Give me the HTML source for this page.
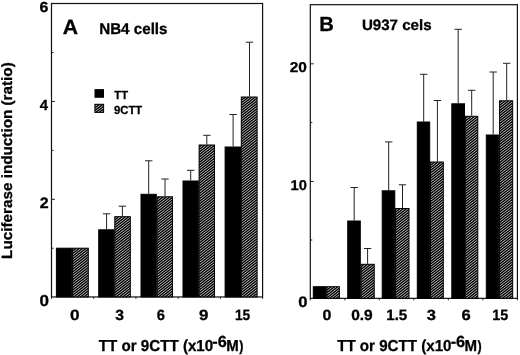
<!DOCTYPE html>
<html><head><meta charset="utf-8"><title>chart</title>
<style>
html,body{margin:0;padding:0;background:#fff;}
body{width:520px;height:355px;overflow:hidden;}
svg{display:block;will-change:transform;filter:blur(0.4px);}
text{font-family:"Liberation Sans",sans-serif;font-weight:bold;text-rendering:geometricPrecision;fill:#000;stroke:#000;stroke-width:0.3px;stroke-linejoin:round;}
.e{stroke:#222;stroke-width:1;}
.t{stroke:#222;stroke-width:1;}
.f{stroke:#111;stroke-width:1.2;}
.b{stroke:#000;stroke-width:1;}
</style></head><body>
<svg width="520" height="355" viewBox="0 0 520 355">
<defs>
<pattern id="h" width="1.6" height="1.6" patternUnits="userSpaceOnUse" patternTransform="rotate(-37.6)">
<rect width="1.6" height="1.6" fill="#fff"/>
<rect width="1.6" height="1.2" fill="#000"/>
</pattern>
</defs>
<rect width="520" height="355" fill="#fff"/>
<rect x="51.5" y="3.5" width="211.10" height="293.45" fill="none" class="f"/>
<rect x="310.3" y="4.7" width="207.10" height="293.65" fill="none" class="f"/>
<line x1="51.5" y1="248.27" x2="53.5" y2="248.27" class="t"/>
<line x1="51.5" y1="199.34" x2="54.9" y2="199.34" class="t"/>
<line x1="51.5" y1="150.41" x2="53.5" y2="150.41" class="t"/>
<line x1="51.5" y1="101.48" x2="54.9" y2="101.48" class="t"/>
<line x1="51.5" y1="52.55" x2="53.5" y2="52.55" class="t"/>
<line x1="310.3" y1="240.00" x2="312.3" y2="240.00" class="t"/>
<line x1="310.3" y1="181.50" x2="313.7" y2="181.50" class="t"/>
<line x1="310.3" y1="122.60" x2="312.3" y2="122.60" class="t"/>
<line x1="310.3" y1="63.80" x2="313.7" y2="63.80" class="t"/>
<line x1="51.50" y1="296.95" x2="51.50" y2="298.84999999999997" class="t"/>
<line x1="93.72" y1="296.95" x2="93.72" y2="298.84999999999997" class="t"/>
<line x1="135.94" y1="296.95" x2="135.94" y2="298.84999999999997" class="t"/>
<line x1="178.16" y1="296.95" x2="178.16" y2="298.84999999999997" class="t"/>
<line x1="220.38" y1="296.95" x2="220.38" y2="298.84999999999997" class="t"/>
<line x1="262.60" y1="296.95" x2="262.60" y2="298.84999999999997" class="t"/>
<line x1="310.30" y1="298.35" x2="310.30" y2="300.25" class="t"/>
<line x1="344.82" y1="298.35" x2="344.82" y2="300.25" class="t"/>
<line x1="379.33" y1="298.35" x2="379.33" y2="300.25" class="t"/>
<line x1="413.85" y1="298.35" x2="413.85" y2="300.25" class="t"/>
<line x1="448.37" y1="298.35" x2="448.37" y2="300.25" class="t"/>
<line x1="482.88" y1="298.35" x2="482.88" y2="300.25" class="t"/>
<line x1="517.40" y1="298.35" x2="517.40" y2="300.25" class="t"/>
<rect x="56.40" y="248.20" width="15.40" height="48.75" fill="#000" class="b"/>
<clipPath id="c1"><rect x="72.60" y="248.20" width="15.70" height="48.75"/></clipPath>
<rect x="72.60" y="248.20" width="15.70" height="48.75" fill="#000"/>
<path clip-path="url(#c1)" d="M71.6 247.92L89.3 234.09M71.6 250.52L89.3 236.70M71.6 253.13L89.3 239.30M71.6 255.73L89.3 241.90M71.6 258.33L89.3 244.50M71.6 260.93L89.3 247.10M71.6 263.53L89.3 249.70M71.6 266.13L89.3 252.30M71.6 268.73L89.3 254.91M71.6 271.34L89.3 257.51M71.6 273.94L89.3 260.11M71.6 276.54L89.3 262.71M71.6 279.14L89.3 265.31M71.6 281.74L89.3 267.91M71.6 284.34L89.3 270.51M71.6 286.94L89.3 273.12M71.6 289.55L89.3 275.72M71.6 292.15L89.3 278.32M71.6 294.75L89.3 280.92M71.6 297.35L89.3 283.52M71.6 299.95L89.3 286.12M71.6 302.55L89.3 288.73M71.6 305.16L89.3 291.33M71.6 307.76L89.3 293.93M71.6 310.36L89.3 296.53" stroke="#fff" stroke-width="0.72" fill="none"/>
<rect x="72.60" y="248.20" width="15.70" height="48.75" fill="none" class="b"/>
<line x1="106.6" y1="213.8" x2="106.6" y2="229.3" class="e"/>
<line x1="102.89999999999999" y1="213.8" x2="110.3" y2="213.8" class="e"/>
<rect x="98.70" y="229.80" width="15.30" height="67.15" fill="#000" class="b"/>
<line x1="122.4" y1="206.2" x2="122.4" y2="216.2" class="e"/>
<line x1="118.7" y1="206.2" x2="126.10000000000001" y2="206.2" class="e"/>
<clipPath id="c2"><rect x="114.80" y="216.70" width="15.50" height="80.25"/></clipPath>
<rect x="114.80" y="216.70" width="15.50" height="80.25" fill="#000"/>
<path clip-path="url(#c2)" d="M113.8 216.70L131.3 203.03M113.8 219.31L131.3 205.63M113.8 221.91L131.3 208.24M113.8 224.51L131.3 210.84M113.8 227.11L131.3 213.44M113.8 229.71L131.3 216.04M113.8 232.31L131.3 218.64M113.8 234.92L131.3 221.24M113.8 237.52L131.3 223.84M113.8 240.12L131.3 226.45M113.8 242.72L131.3 229.05M113.8 245.32L131.3 231.65M113.8 247.92L131.3 234.25M113.8 250.52L131.3 236.85M113.8 253.13L131.3 239.45M113.8 255.73L131.3 242.05M113.8 258.33L131.3 244.66M113.8 260.93L131.3 247.26M113.8 263.53L131.3 249.86M113.8 266.13L131.3 252.46M113.8 268.73L131.3 255.06M113.8 271.34L131.3 257.66M113.8 273.94L131.3 260.26M113.8 276.54L131.3 262.87M113.8 279.14L131.3 265.47M113.8 281.74L131.3 268.07M113.8 284.34L131.3 270.67M113.8 286.94L131.3 273.27M113.8 289.55L131.3 275.87M113.8 292.15L131.3 278.48M113.8 294.75L131.3 281.08M113.8 297.35L131.3 283.68M113.8 299.95L131.3 286.28M113.8 302.55L131.3 288.88M113.8 305.16L131.3 291.48M113.8 307.76L131.3 294.08M113.8 310.36L131.3 296.69" stroke="#fff" stroke-width="0.72" fill="none"/>
<rect x="114.80" y="216.70" width="15.50" height="80.25" fill="none" class="b"/>
<line x1="148.7" y1="160.8" x2="148.7" y2="193.8" class="e"/>
<line x1="145.0" y1="160.8" x2="152.39999999999998" y2="160.8" class="e"/>
<rect x="141.00" y="194.30" width="15.30" height="102.65" fill="#000" class="b"/>
<line x1="165.0" y1="179.0" x2="165.0" y2="196.3" class="e"/>
<line x1="161.3" y1="179.0" x2="168.7" y2="179.0" class="e"/>
<clipPath id="c3"><rect x="157.10" y="196.80" width="15.40" height="100.15"/></clipPath>
<rect x="157.10" y="196.80" width="15.40" height="100.15" fill="#000"/>
<path clip-path="url(#c3)" d="M156.1 195.89L173.5 182.30M156.1 198.49L173.5 184.90M156.1 201.10L173.5 187.50M156.1 203.70L173.5 190.10M156.1 206.30L173.5 192.70M156.1 208.90L173.5 195.31M156.1 211.50L173.5 197.91M156.1 214.10L173.5 200.51M156.1 216.70L173.5 203.11M156.1 219.31L173.5 205.71M156.1 221.91L173.5 208.31M156.1 224.51L173.5 210.91M156.1 227.11L173.5 213.52M156.1 229.71L173.5 216.12M156.1 232.31L173.5 218.72M156.1 234.92L173.5 221.32M156.1 237.52L173.5 223.92M156.1 240.12L173.5 226.52M156.1 242.72L173.5 229.13M156.1 245.32L173.5 231.73M156.1 247.92L173.5 234.33M156.1 250.52L173.5 236.93M156.1 253.13L173.5 239.53M156.1 255.73L173.5 242.13M156.1 258.33L173.5 244.73M156.1 260.93L173.5 247.34M156.1 263.53L173.5 249.94M156.1 266.13L173.5 252.54M156.1 268.73L173.5 255.14M156.1 271.34L173.5 257.74M156.1 273.94L173.5 260.34M156.1 276.54L173.5 262.94M156.1 279.14L173.5 265.55M156.1 281.74L173.5 268.15M156.1 284.34L173.5 270.75M156.1 286.94L173.5 273.35M156.1 289.55L173.5 275.95M156.1 292.15L173.5 278.55M156.1 294.75L173.5 281.15M156.1 297.35L173.5 283.76M156.1 299.95L173.5 286.36M156.1 302.55L173.5 288.96M156.1 305.16L173.5 291.56M156.1 307.76L173.5 294.16M156.1 310.36L173.5 296.76" stroke="#fff" stroke-width="0.72" fill="none"/>
<rect x="157.10" y="196.80" width="15.40" height="100.15" fill="none" class="b"/>
<line x1="190.7" y1="170.3" x2="190.7" y2="180.5" class="e"/>
<line x1="187.0" y1="170.3" x2="194.39999999999998" y2="170.3" class="e"/>
<rect x="183.00" y="181.00" width="15.30" height="115.95" fill="#000" class="b"/>
<line x1="206.8" y1="135.3" x2="206.8" y2="144.5" class="e"/>
<line x1="203.10000000000002" y1="135.3" x2="210.5" y2="135.3" class="e"/>
<clipPath id="c4"><rect x="199.10" y="145.00" width="15.40" height="151.95"/></clipPath>
<rect x="199.10" y="145.00" width="15.40" height="151.95" fill="#000"/>
<path clip-path="url(#c4)" d="M198.1 143.86L215.5 130.27M198.1 146.46L215.5 132.87M198.1 149.07L215.5 135.47M198.1 151.67L215.5 138.07M198.1 154.27L215.5 140.67M198.1 156.87L215.5 143.28M198.1 159.47L215.5 145.88M198.1 162.07L215.5 148.48M198.1 164.67L215.5 151.08M198.1 167.28L215.5 153.68M198.1 169.88L215.5 156.28M198.1 172.48L215.5 158.89M198.1 175.08L215.5 161.49M198.1 177.68L215.5 164.09M198.1 180.28L215.5 166.69M198.1 182.89L215.5 169.29M198.1 185.49L215.5 171.89M198.1 188.09L215.5 174.49M198.1 190.69L215.5 177.10M198.1 193.29L215.5 179.70M198.1 195.89L215.5 182.30M198.1 198.49L215.5 184.90M198.1 201.10L215.5 187.50M198.1 203.70L215.5 190.10M198.1 206.30L215.5 192.70M198.1 208.90L215.5 195.31M198.1 211.50L215.5 197.91M198.1 214.10L215.5 200.51M198.1 216.70L215.5 203.11M198.1 219.31L215.5 205.71M198.1 221.91L215.5 208.31M198.1 224.51L215.5 210.91M198.1 227.11L215.5 213.52M198.1 229.71L215.5 216.12M198.1 232.31L215.5 218.72M198.1 234.92L215.5 221.32M198.1 237.52L215.5 223.92M198.1 240.12L215.5 226.52M198.1 242.72L215.5 229.13M198.1 245.32L215.5 231.73M198.1 247.92L215.5 234.33M198.1 250.52L215.5 236.93M198.1 253.13L215.5 239.53M198.1 255.73L215.5 242.13M198.1 258.33L215.5 244.73M198.1 260.93L215.5 247.34M198.1 263.53L215.5 249.94M198.1 266.13L215.5 252.54M198.1 268.73L215.5 255.14M198.1 271.34L215.5 257.74M198.1 273.94L215.5 260.34M198.1 276.54L215.5 262.94M198.1 279.14L215.5 265.55M198.1 281.74L215.5 268.15M198.1 284.34L215.5 270.75M198.1 286.94L215.5 273.35M198.1 289.55L215.5 275.95M198.1 292.15L215.5 278.55M198.1 294.75L215.5 281.15M198.1 297.35L215.5 283.76M198.1 299.95L215.5 286.36M198.1 302.55L215.5 288.96M198.1 305.16L215.5 291.56M198.1 307.76L215.5 294.16M198.1 310.36L215.5 296.76" stroke="#fff" stroke-width="0.72" fill="none"/>
<rect x="199.10" y="145.00" width="15.40" height="151.95" fill="none" class="b"/>
<line x1="233.1" y1="114.5" x2="233.1" y2="146.5" class="e"/>
<line x1="229.4" y1="114.5" x2="236.79999999999998" y2="114.5" class="e"/>
<rect x="225.10" y="147.00" width="15.40" height="149.95" fill="#000" class="b"/>
<line x1="249.5" y1="42.2" x2="249.5" y2="96.5" class="e"/>
<line x1="245.8" y1="42.2" x2="253.2" y2="42.2" class="e"/>
<clipPath id="c5"><rect x="241.30" y="97.00" width="15.80" height="199.95"/></clipPath>
<rect x="241.30" y="97.00" width="15.80" height="199.95" fill="#000"/>
<path clip-path="url(#c5)" d="M240.3 97.04L258.1 83.13M240.3 99.64L258.1 85.73M240.3 102.24L258.1 88.33M240.3 104.84L258.1 90.93M240.3 107.44L258.1 93.54M240.3 110.04L258.1 96.14M240.3 112.65L258.1 98.74M240.3 115.25L258.1 101.34M240.3 117.85L258.1 103.94M240.3 120.45L258.1 106.54M240.3 123.05L258.1 109.14M240.3 125.65L258.1 111.75M240.3 128.25L258.1 114.35M240.3 130.86L258.1 116.95M240.3 133.46L258.1 119.55M240.3 136.06L258.1 122.15M240.3 138.66L258.1 124.75M240.3 141.26L258.1 127.35M240.3 143.86L258.1 129.96M240.3 146.46L258.1 132.56M240.3 149.07L258.1 135.16M240.3 151.67L258.1 137.76M240.3 154.27L258.1 140.36M240.3 156.87L258.1 142.96M240.3 159.47L258.1 145.57M240.3 162.07L258.1 148.17M240.3 164.67L258.1 150.77M240.3 167.28L258.1 153.37M240.3 169.88L258.1 155.97M240.3 172.48L258.1 158.57M240.3 175.08L258.1 161.17M240.3 177.68L258.1 163.78M240.3 180.28L258.1 166.38M240.3 182.89L258.1 168.98M240.3 185.49L258.1 171.58M240.3 188.09L258.1 174.18M240.3 190.69L258.1 176.78M240.3 193.29L258.1 179.38M240.3 195.89L258.1 181.99M240.3 198.49L258.1 184.59M240.3 201.10L258.1 187.19M240.3 203.70L258.1 189.79M240.3 206.30L258.1 192.39M240.3 208.90L258.1 194.99M240.3 211.50L258.1 197.59M240.3 214.10L258.1 200.20M240.3 216.70L258.1 202.80M240.3 219.31L258.1 205.40M240.3 221.91L258.1 208.00M240.3 224.51L258.1 210.60M240.3 227.11L258.1 213.20M240.3 229.71L258.1 215.81M240.3 232.31L258.1 218.41M240.3 234.92L258.1 221.01M240.3 237.52L258.1 223.61M240.3 240.12L258.1 226.21M240.3 242.72L258.1 228.81M240.3 245.32L258.1 231.41M240.3 247.92L258.1 234.02M240.3 250.52L258.1 236.62M240.3 253.13L258.1 239.22M240.3 255.73L258.1 241.82M240.3 258.33L258.1 244.42M240.3 260.93L258.1 247.02M240.3 263.53L258.1 249.62M240.3 266.13L258.1 252.23M240.3 268.73L258.1 254.83M240.3 271.34L258.1 257.43M240.3 273.94L258.1 260.03M240.3 276.54L258.1 262.63M240.3 279.14L258.1 265.23M240.3 281.74L258.1 267.84M240.3 284.34L258.1 270.44M240.3 286.94L258.1 273.04M240.3 289.55L258.1 275.64M240.3 292.15L258.1 278.24M240.3 294.75L258.1 280.84M240.3 297.35L258.1 283.44M240.3 299.95L258.1 286.05M240.3 302.55L258.1 288.65M240.3 305.16L258.1 291.25M240.3 307.76L258.1 293.85M240.3 310.36L258.1 296.45" stroke="#fff" stroke-width="0.72" fill="none"/>
<rect x="241.30" y="97.00" width="15.80" height="199.95" fill="none" class="b"/>
<rect x="313.30" y="286.70" width="12.80" height="11.65" fill="#000" class="b"/>
<clipPath id="c6"><rect x="326.90" y="286.70" width="12.50" height="11.65"/></clipPath>
<rect x="326.90" y="286.70" width="12.50" height="11.65" fill="#000"/>
<path clip-path="url(#c6)" d="M325.9 286.94L340.4 275.62M325.9 289.55L340.4 278.22M325.9 292.15L340.4 280.82M325.9 294.75L340.4 283.42M325.9 297.35L340.4 286.02M325.9 299.95L340.4 288.62M325.9 302.55L340.4 291.23M325.9 305.16L340.4 293.83M325.9 307.76L340.4 296.43M325.9 310.36L340.4 299.03" stroke="#fff" stroke-width="0.72" fill="none"/>
<rect x="326.90" y="286.70" width="12.50" height="11.65" fill="none" class="b"/>
<line x1="354.2" y1="187.5" x2="354.2" y2="220.5" class="e"/>
<line x1="350.5" y1="187.5" x2="357.9" y2="187.5" class="e"/>
<rect x="347.70" y="221.00" width="12.60" height="77.35" fill="#000" class="b"/>
<line x1="367.6" y1="248.5" x2="367.6" y2="263.8" class="e"/>
<line x1="363.90000000000003" y1="248.5" x2="371.3" y2="248.5" class="e"/>
<clipPath id="c7"><rect x="361.10" y="264.30" width="13.10" height="34.05"/></clipPath>
<rect x="361.10" y="264.30" width="13.10" height="34.05" fill="#000"/>
<path clip-path="url(#c7)" d="M360.1 263.53L375.2 251.73M360.1 266.13L375.2 254.34M360.1 268.73L375.2 256.94M360.1 271.34L375.2 259.54M360.1 273.94L375.2 262.14M360.1 276.54L375.2 264.74M360.1 279.14L375.2 267.34M360.1 281.74L375.2 269.94M360.1 284.34L375.2 272.55M360.1 286.94L375.2 275.15M360.1 289.55L375.2 277.75M360.1 292.15L375.2 280.35M360.1 294.75L375.2 282.95M360.1 297.35L375.2 285.55M360.1 299.95L375.2 288.15M360.1 302.55L375.2 290.76M360.1 305.16L375.2 293.36M360.1 307.76L375.2 295.96M360.1 310.36L375.2 298.56" stroke="#fff" stroke-width="0.72" fill="none"/>
<rect x="361.10" y="264.30" width="13.10" height="34.05" fill="none" class="b"/>
<line x1="388.7" y1="141.9" x2="388.7" y2="190.3" class="e"/>
<line x1="385.0" y1="141.9" x2="392.4" y2="141.9" class="e"/>
<rect x="382.20" y="190.80" width="12.60" height="107.55" fill="#000" class="b"/>
<line x1="402.5" y1="184.8" x2="402.5" y2="208.0" class="e"/>
<line x1="398.8" y1="184.8" x2="406.2" y2="184.8" class="e"/>
<clipPath id="c8"><rect x="395.60" y="208.50" width="13.40" height="89.85"/></clipPath>
<rect x="395.60" y="208.50" width="13.40" height="89.85" fill="#000"/>
<path clip-path="url(#c8)" d="M394.6 208.90L410.0 196.87M394.6 211.50L410.0 199.47M394.6 214.10L410.0 202.07M394.6 216.70L410.0 204.67M394.6 219.31L410.0 207.27M394.6 221.91L410.0 209.88M394.6 224.51L410.0 212.48M394.6 227.11L410.0 215.08M394.6 229.71L410.0 217.68M394.6 232.31L410.0 220.28M394.6 234.92L410.0 222.88M394.6 237.52L410.0 225.48M394.6 240.12L410.0 228.09M394.6 242.72L410.0 230.69M394.6 245.32L410.0 233.29M394.6 247.92L410.0 235.89M394.6 250.52L410.0 238.49M394.6 253.13L410.0 241.09M394.6 255.73L410.0 243.70M394.6 258.33L410.0 246.30M394.6 260.93L410.0 248.90M394.6 263.53L410.0 251.50M394.6 266.13L410.0 254.10M394.6 268.73L410.0 256.70M394.6 271.34L410.0 259.30M394.6 273.94L410.0 261.91M394.6 276.54L410.0 264.51M394.6 279.14L410.0 267.11M394.6 281.74L410.0 269.71M394.6 284.34L410.0 272.31M394.6 286.94L410.0 274.91M394.6 289.55L410.0 277.51M394.6 292.15L410.0 280.12M394.6 294.75L410.0 282.72M394.6 297.35L410.0 285.32M394.6 299.95L410.0 287.92M394.6 302.55L410.0 290.52M394.6 305.16L410.0 293.12M394.6 307.76L410.0 295.72M394.6 310.36L410.0 298.33" stroke="#fff" stroke-width="0.72" fill="none"/>
<rect x="395.60" y="208.50" width="13.40" height="89.85" fill="none" class="b"/>
<line x1="423.7" y1="74.3" x2="423.7" y2="121.5" class="e"/>
<line x1="420.0" y1="74.3" x2="427.4" y2="74.3" class="e"/>
<rect x="417.30" y="122.00" width="12.40" height="176.35" fill="#000" class="b"/>
<line x1="437.4" y1="100.5" x2="437.4" y2="161.5" class="e"/>
<line x1="433.7" y1="100.5" x2="441.09999999999997" y2="100.5" class="e"/>
<clipPath id="c9"><rect x="430.50" y="162.00" width="12.80" height="136.35"/></clipPath>
<rect x="430.50" y="162.00" width="12.80" height="136.35" fill="#000"/>
<path clip-path="url(#c9)" d="M429.5 162.07L444.3 150.51M429.5 164.67L444.3 153.11M429.5 167.28L444.3 155.71M429.5 169.88L444.3 158.31M429.5 172.48L444.3 160.92M429.5 175.08L444.3 163.52M429.5 177.68L444.3 166.12M429.5 180.28L444.3 168.72M429.5 182.89L444.3 171.32M429.5 185.49L444.3 173.92M429.5 188.09L444.3 176.53M429.5 190.69L444.3 179.13M429.5 193.29L444.3 181.73M429.5 195.89L444.3 184.33M429.5 198.49L444.3 186.93M429.5 201.10L444.3 189.53M429.5 203.70L444.3 192.13M429.5 206.30L444.3 194.74M429.5 208.90L444.3 197.34M429.5 211.50L444.3 199.94M429.5 214.10L444.3 202.54M429.5 216.70L444.3 205.14M429.5 219.31L444.3 207.74M429.5 221.91L444.3 210.34M429.5 224.51L444.3 212.95M429.5 227.11L444.3 215.55M429.5 229.71L444.3 218.15M429.5 232.31L444.3 220.75M429.5 234.92L444.3 223.35M429.5 237.52L444.3 225.95M429.5 240.12L444.3 228.56M429.5 242.72L444.3 231.16M429.5 245.32L444.3 233.76M429.5 247.92L444.3 236.36M429.5 250.52L444.3 238.96M429.5 253.13L444.3 241.56M429.5 255.73L444.3 244.16M429.5 258.33L444.3 246.77M429.5 260.93L444.3 249.37M429.5 263.53L444.3 251.97M429.5 266.13L444.3 254.57M429.5 268.73L444.3 257.17M429.5 271.34L444.3 259.77M429.5 273.94L444.3 262.37M429.5 276.54L444.3 264.98M429.5 279.14L444.3 267.58M429.5 281.74L444.3 270.18M429.5 284.34L444.3 272.78M429.5 286.94L444.3 275.38M429.5 289.55L444.3 277.98M429.5 292.15L444.3 280.58M429.5 294.75L444.3 283.19M429.5 297.35L444.3 285.79M429.5 299.95L444.3 288.39M429.5 302.55L444.3 290.99M429.5 305.16L444.3 293.59M429.5 307.76L444.3 296.19M429.5 310.36L444.3 298.80" stroke="#fff" stroke-width="0.72" fill="none"/>
<rect x="430.50" y="162.00" width="12.80" height="136.35" fill="none" class="b"/>
<line x1="458.2" y1="29.3" x2="458.2" y2="103.3" class="e"/>
<line x1="454.5" y1="29.3" x2="461.9" y2="29.3" class="e"/>
<rect x="451.80" y="103.80" width="12.70" height="194.55" fill="#000" class="b"/>
<line x1="471.7" y1="90.3" x2="471.7" y2="115.8" class="e"/>
<line x1="468.0" y1="90.3" x2="475.4" y2="90.3" class="e"/>
<clipPath id="c10"><rect x="465.30" y="116.30" width="12.50" height="182.05"/></clipPath>
<rect x="465.30" y="116.30" width="12.50" height="182.05" fill="#000"/>
<path clip-path="url(#c10)" d="M464.3 115.25L478.8 103.92M464.3 117.85L478.8 106.52M464.3 120.45L478.8 109.12M464.3 123.05L478.8 111.72M464.3 125.65L478.8 114.32M464.3 128.25L478.8 116.93M464.3 130.86L478.8 119.53M464.3 133.46L478.8 122.13M464.3 136.06L478.8 124.73M464.3 138.66L478.8 127.33M464.3 141.26L478.8 129.93M464.3 143.86L478.8 132.53M464.3 146.46L478.8 135.14M464.3 149.07L478.8 137.74M464.3 151.67L478.8 140.34M464.3 154.27L478.8 142.94M464.3 156.87L478.8 145.54M464.3 159.47L478.8 148.14M464.3 162.07L478.8 150.74M464.3 164.67L478.8 153.35M464.3 167.28L478.8 155.95M464.3 169.88L478.8 158.55M464.3 172.48L478.8 161.15M464.3 175.08L478.8 163.75M464.3 177.68L478.8 166.35M464.3 180.28L478.8 168.96M464.3 182.89L478.8 171.56M464.3 185.49L478.8 174.16M464.3 188.09L478.8 176.76M464.3 190.69L478.8 179.36M464.3 193.29L478.8 181.96M464.3 195.89L478.8 184.56M464.3 198.49L478.8 187.17M464.3 201.10L478.8 189.77M464.3 203.70L478.8 192.37M464.3 206.30L478.8 194.97M464.3 208.90L478.8 197.57M464.3 211.50L478.8 200.17M464.3 214.10L478.8 202.77M464.3 216.70L478.8 205.38M464.3 219.31L478.8 207.98M464.3 221.91L478.8 210.58M464.3 224.51L478.8 213.18M464.3 227.11L478.8 215.78M464.3 229.71L478.8 218.38M464.3 232.31L478.8 220.99M464.3 234.92L478.8 223.59M464.3 237.52L478.8 226.19M464.3 240.12L478.8 228.79M464.3 242.72L478.8 231.39M464.3 245.32L478.8 233.99M464.3 247.92L478.8 236.59M464.3 250.52L478.8 239.20M464.3 253.13L478.8 241.80M464.3 255.73L478.8 244.40M464.3 258.33L478.8 247.00M464.3 260.93L478.8 249.60M464.3 263.53L478.8 252.20M464.3 266.13L478.8 254.80M464.3 268.73L478.8 257.41M464.3 271.34L478.8 260.01M464.3 273.94L478.8 262.61M464.3 276.54L478.8 265.21M464.3 279.14L478.8 267.81M464.3 281.74L478.8 270.41M464.3 284.34L478.8 273.01M464.3 286.94L478.8 275.62M464.3 289.55L478.8 278.22M464.3 292.15L478.8 280.82M464.3 294.75L478.8 283.42M464.3 297.35L478.8 286.02M464.3 299.95L478.8 288.62M464.3 302.55L478.8 291.23M464.3 305.16L478.8 293.83M464.3 307.76L478.8 296.43M464.3 310.36L478.8 299.03" stroke="#fff" stroke-width="0.72" fill="none"/>
<rect x="465.30" y="116.30" width="12.50" height="182.05" fill="none" class="b"/>
<line x1="493.2" y1="72.0" x2="493.2" y2="134.5" class="e"/>
<line x1="489.5" y1="72.0" x2="496.9" y2="72.0" class="e"/>
<rect x="486.30" y="135.00" width="12.50" height="163.35" fill="#000" class="b"/>
<line x1="506.7" y1="63.3" x2="506.7" y2="100.3" class="e"/>
<line x1="503.0" y1="63.3" x2="510.4" y2="63.3" class="e"/>
<clipPath id="c11"><rect x="499.60" y="100.80" width="13.10" height="197.55"/></clipPath>
<rect x="499.60" y="100.80" width="13.10" height="197.55" fill="#000"/>
<path clip-path="url(#c11)" d="M498.6 99.64L513.7 87.84M498.6 102.24L513.7 90.44M498.6 104.84L513.7 93.04M498.6 107.44L513.7 95.64M498.6 110.04L513.7 98.25M498.6 112.65L513.7 100.85M498.6 115.25L513.7 103.45M498.6 117.85L513.7 106.05M498.6 120.45L513.7 108.65M498.6 123.05L513.7 111.25M498.6 125.65L513.7 113.86M498.6 128.25L513.7 116.46M498.6 130.86L513.7 119.06M498.6 133.46L513.7 121.66M498.6 136.06L513.7 124.26M498.6 138.66L513.7 126.86M498.6 141.26L513.7 129.46M498.6 143.86L513.7 132.07M498.6 146.46L513.7 134.67M498.6 149.07L513.7 137.27M498.6 151.67L513.7 139.87M498.6 154.27L513.7 142.47M498.6 156.87L513.7 145.07M498.6 159.47L513.7 147.67M498.6 162.07L513.7 150.28M498.6 164.67L513.7 152.88M498.6 167.28L513.7 155.48M498.6 169.88L513.7 158.08M498.6 172.48L513.7 160.68M498.6 175.08L513.7 163.28M498.6 177.68L513.7 165.89M498.6 180.28L513.7 168.49M498.6 182.89L513.7 171.09M498.6 185.49L513.7 173.69M498.6 188.09L513.7 176.29M498.6 190.69L513.7 178.89M498.6 193.29L513.7 181.49M498.6 195.89L513.7 184.10M498.6 198.49L513.7 186.70M498.6 201.10L513.7 189.30M498.6 203.70L513.7 191.90M498.6 206.30L513.7 194.50M498.6 208.90L513.7 197.10M498.6 211.50L513.7 199.70M498.6 214.10L513.7 202.31M498.6 216.70L513.7 204.91M498.6 219.31L513.7 207.51M498.6 221.91L513.7 210.11M498.6 224.51L513.7 212.71M498.6 227.11L513.7 215.31M498.6 229.71L513.7 217.91M498.6 232.31L513.7 220.52M498.6 234.92L513.7 223.12M498.6 237.52L513.7 225.72M498.6 240.12L513.7 228.32M498.6 242.72L513.7 230.92M498.6 245.32L513.7 233.52M498.6 247.92L513.7 236.13M498.6 250.52L513.7 238.73M498.6 253.13L513.7 241.33M498.6 255.73L513.7 243.93M498.6 258.33L513.7 246.53M498.6 260.93L513.7 249.13M498.6 263.53L513.7 251.73M498.6 266.13L513.7 254.34M498.6 268.73L513.7 256.94M498.6 271.34L513.7 259.54M498.6 273.94L513.7 262.14M498.6 276.54L513.7 264.74M498.6 279.14L513.7 267.34M498.6 281.74L513.7 269.94M498.6 284.34L513.7 272.55M498.6 286.94L513.7 275.15M498.6 289.55L513.7 277.75M498.6 292.15L513.7 280.35M498.6 294.75L513.7 282.95M498.6 297.35L513.7 285.55M498.6 299.95L513.7 288.15M498.6 302.55L513.7 290.76M498.6 305.16L513.7 293.36M498.6 307.76L513.7 295.96M498.6 310.36L513.7 298.56" stroke="#fff" stroke-width="0.72" fill="none"/>
<rect x="499.60" y="100.80" width="13.10" height="197.55" fill="none" class="b"/>
<text transform="translate(39.60,11.65) scale(1.0962,1)" font-size="14.56">6</text>
<text transform="translate(39.78,110.00) scale(1.0179,1)" font-size="14.69">4</text>
<text transform="translate(39.64,208.40) scale(1.0656,1)" font-size="15.05">2</text>
<text transform="translate(39.52,305.74) scale(1.0772,1)" font-size="15.83">0</text>
<text transform="translate(289.66,71.96) scale(1.0829,1)" font-size="14.28">20</text>
<text transform="translate(290.48,189.76) scale(1.0290,1)" font-size="14.28">10</text>
<text transform="translate(298.13,306.65) scale(1.0997,1)" font-size="15.12">0</text>
<text transform="translate(69.91,320.05) scale(1.1632,1)" font-size="14.84">0</text>
<text transform="translate(115.25,320.02) scale(1.0602,1)" font-size="14.79">3</text>
<text transform="translate(156.65,320.05) scale(0.9915,1)" font-size="14.84">6</text>
<text transform="translate(199.01,320.05) scale(1.1392,1)" font-size="14.84">9</text>
<text transform="translate(234.94,320.05) scale(0.9118,1)" font-size="15.05">15</text>
<text transform="translate(322.56,320.05) scale(1.0781,1)" font-size="14.84">0</text>
<text transform="translate(351.18,320.05) scale(1.0453,1)" font-size="14.84">0.9</text>
<text transform="translate(386.26,320.05) scale(1.0015,1)" font-size="15.05">1.5</text>
<text transform="translate(426.83,320.02) scale(1.1145,1)" font-size="14.79">3</text>
<text transform="translate(461.58,320.05) scale(1.1172,1)" font-size="14.84">6</text>
<text transform="translate(492.31,320.05) scale(0.9508,1)" font-size="15.05">15</text>
<text transform="translate(98.85,350.80) scale(0.9547,1)" font-size="15.85">TT or 9CTT (x10</text>
<text transform="translate(212.35,347.24) scale(1.0083,1)" font-size="16.11">-6</text>
<text transform="translate(226.28,350.80) scale(0.9495,1)" font-size="15.85">M</text>
<text transform="translate(239.27,350.55) scale(0.8508,1)" font-size="14.69">)</text>
<text transform="translate(337.15,350.90) scale(0.9547,1)" font-size="15.85">TT or 9CTT (x10</text>
<text transform="translate(450.65,347.34) scale(1.0083,1)" font-size="16.11">-6</text>
<text transform="translate(464.58,350.90) scale(0.9495,1)" font-size="15.85">M</text>
<text transform="translate(477.57,350.65) scale(0.8508,1)" font-size="14.69">)</text>
<text transform="translate(12.20,258.93) rotate(-90) scale(1.0290,1)" font-size="14.84">Luciferase induction (ratio)</text>
<text transform="translate(62.87,33.50) scale(1.0189,1)" font-size="20.80">A</text>
<text transform="translate(99.17,33.90) scale(0.9766,1)" font-size="15.56">NB4 cells</text>
<text transform="translate(319.34,30.60) scale(0.9902,1)" font-size="20.36">B</text>
<text transform="translate(361.89,29.55) scale(1.0034,1)" font-size="15.05">U937 cels</text>
<rect x="94.5" y="89.1" width="9.5" height="8.7" fill="#000"/>
<clipPath id="c12"><rect x="94.90" y="104.30" width="8.70" height="8.10"/></clipPath>
<rect x="94.90" y="104.30" width="8.70" height="8.10" fill="#000"/>
<path clip-path="url(#c12)" d="M93.9 104.84L104.6 96.48M93.9 107.44L104.6 99.08M93.9 110.04L104.6 101.68M93.9 112.65L104.6 104.29M93.9 115.25L104.6 106.89M93.9 117.85L104.6 109.49M93.9 120.45L104.6 112.09" stroke="#fff" stroke-width="0.72" fill="none"/>
<rect x="94.90" y="104.30" width="8.70" height="8.10" fill="none" class="b"/>
<text transform="translate(114.29,98.60) scale(0.9549,1)" font-size="11.78">TT</text>
<text transform="translate(114.01,113.70) scale(0.9577,1)" font-size="11.78">9CTT</text>
</svg>
</body></html>
